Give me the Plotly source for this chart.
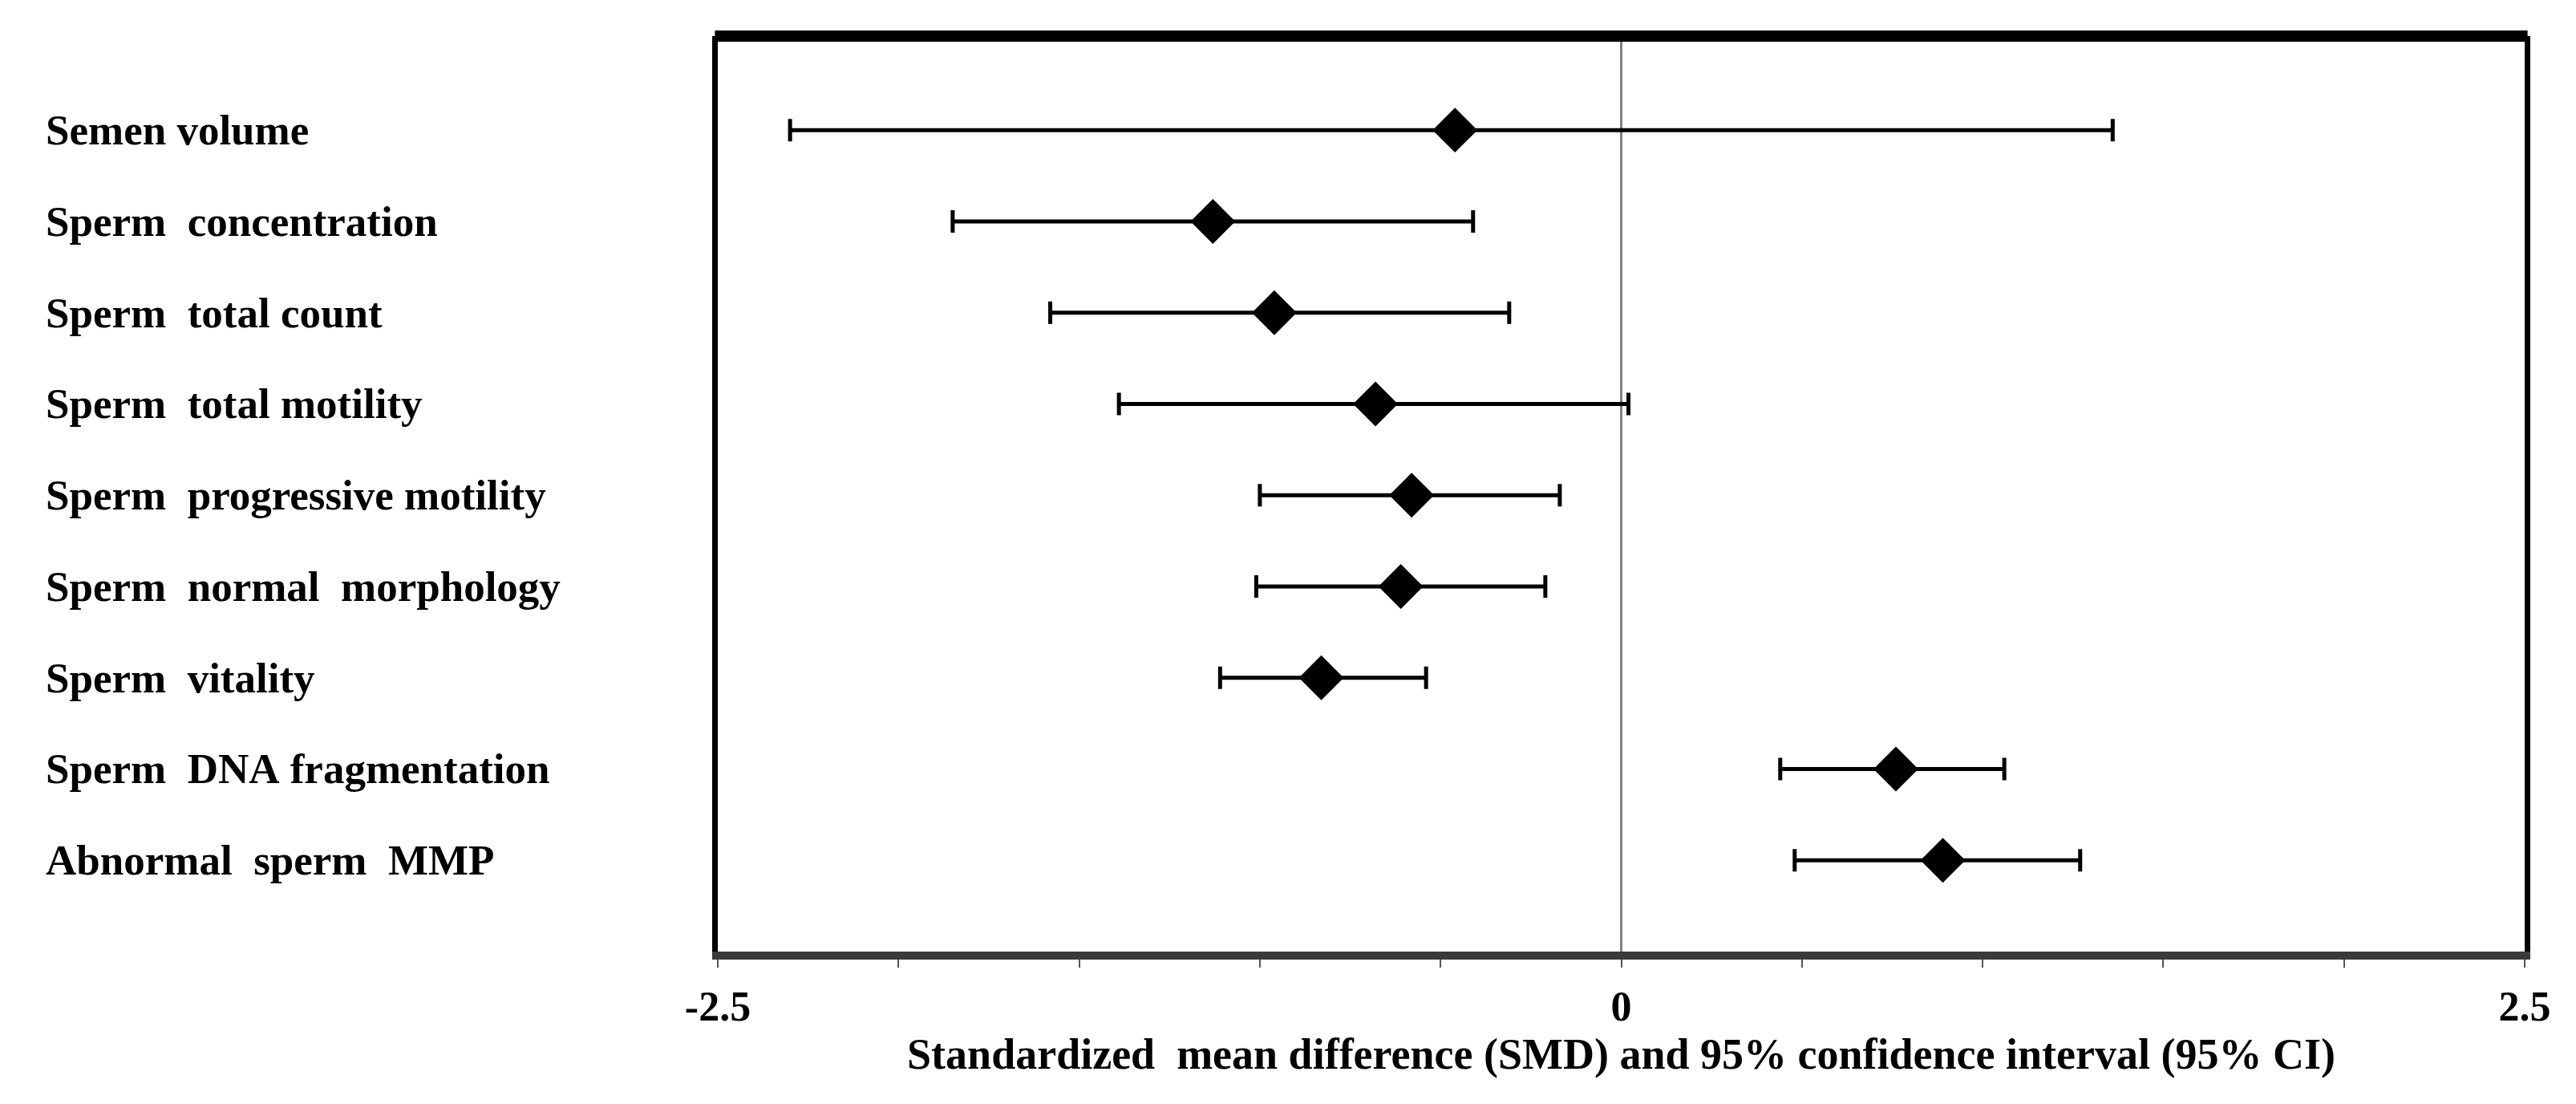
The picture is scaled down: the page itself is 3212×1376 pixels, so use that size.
import plotly.graph_objects as go

outcomes = [
    "Semen volume",
    "Sperm  concentration",
    "Sperm  total count",
    "Sperm  total motility",
    "Sperm  progressive motility",
    "Sperm  normal  morphology",
    "Sperm  vitality",
    "Sperm  DNA fragmentation",
    "Abnormal  sperm  MMP",
]
smd = [-0.46, -1.13, -0.96, -0.68, -0.58, -0.61, -0.83, 0.76, 0.89]
ci_low = [-2.30, -1.85, -1.58, -1.39, -1.00, -1.01, -1.11, 0.44, 0.48]
ci_high = [1.36, -0.41, -0.31, 0.02, -0.17, -0.21, -0.54, 1.06, 1.27]

tick_vals = [-2.5, -2.0, -1.5, -1.0, -0.5, 0, 0.5, 1.0, 1.5, 2.0, 2.5]
tick_text = ["-2.5", "", "", "", "", "0", "", "", "", "", "2.5"]
x_title = "Standardized  mean difference (SMD) and 95% confidence interval (95% CI)"

FONT = "Liberation Serif"
rows = list(range(len(outcomes)))

fig = go.Figure()
fig.add_trace(go.Scatter(
    x=smd,
    y=rows,
    mode="markers",
    marker=dict(symbol="diamond", size=43, color="black", line=dict(width=0)),
    error_x=dict(
        type="data",
        symmetric=False,
        array=[h - m for h, m in zip(ci_high, smd)],
        arrayminus=[m - l for m, l in zip(smd, ci_low)],
        color="black",
        thickness=5,
        width=14,
    ),
    showlegend=False,
    hoverinfo="skip",
))

for i, name in enumerate(outcomes):
    fig.add_annotation(
        x=-0.373, xref="paper", y=i, yref="y",
        text=name.replace(" ", "&nbsp;"),
        showarrow=False, xanchor="left", yanchor="middle",
        font=dict(family=FONT, size=53, color="black", weight="bold"),
    )

fig.add_shape(type="line", xref="paper", yref="paper", x0=-0.0016, x1=1.0016, y0=1, y1=1,
              line=dict(color="black", width=14))

fig.update_layout(
    width=3212, height=1376,
    margin=dict(l=887, r=72, t=37, b=198),
    paper_bgcolor="white", plot_bgcolor="white",
    font=dict(family=FONT, size=53, color="black", weight="bold"),
    xaxis=dict(
        range=[-2.5, 2.5],
        tickmode="array", tickvals=tick_vals, ticktext=tick_text,
        ticks="outside", ticklen=10, tickwidth=2, tickcolor="#555555",
        ticklabelstandoff=4,
        showline=True, linecolor="#3a3a3a", linewidth=10,
        showgrid=False,
        zeroline=True, zerolinecolor="#808080", zerolinewidth=3,
        title=dict(text=x_title, standoff=16,
                   font=dict(family=FONT, size=54, color="black", weight="bold")),
        tickfont=dict(family=FONT, size=52, color="black", weight="bold"),
    ),
    yaxis=dict(
        range=[9.0, -1.03],
        showticklabels=False, ticks="",
        showline=True, linecolor="black", linewidth=7, mirror=True,
        showgrid=False, zeroline=False,
    ),
)

fig.write_html("out.html")
